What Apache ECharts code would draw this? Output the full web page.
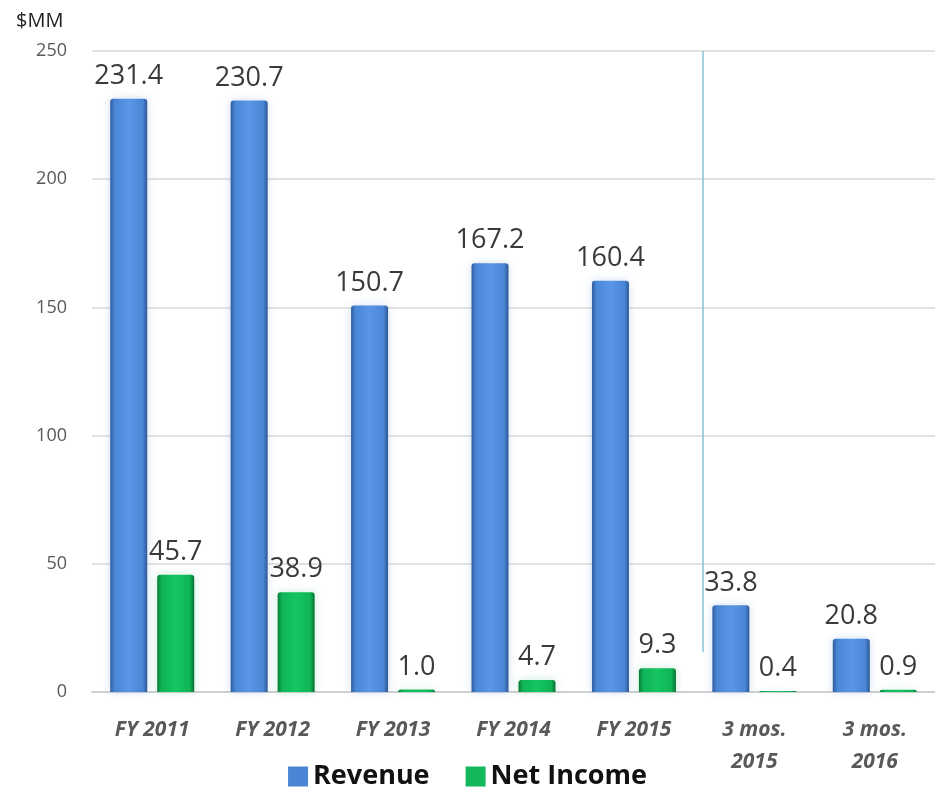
<!DOCTYPE html>
<html>
<head>
<meta charset="utf-8">
<script src="https://cdn.jsdelivr.net/npm/echarts@6/dist/echarts.min.js"></script>
<style>
  html, body { margin: 0; padding: 0; background: #fff; }
  #chart { width: 935px; height: 788px; }
</style>
</head>
<body>
<div id="chart"></div>
<script>
// chart data
const categories = ['FY 2011', 'FY 2012', 'FY 2013', 'FY 2014', 'FY 2015', '3 mos.\n2015', '3 mos.\n2016']
const revenue = [231.4, 230.7, 150.7, 167.2, 160.4, 33.8, 20.8]
const netIncome = [45.7, 38.9, 1.0, 4.7, 9.3, 0.4, 0.9]
const yTicks = [0, 50, 100, 150, 200, 250]
// separator between fiscal years and quarters (in category units, value on hidden axis)
const separatorX = 5.07
const separatorBottom = 15.5

const font = 'Open Sans, Noto Sans, sans-serif'

const blueFill = new echarts.graphic.LinearGradient(0, 0, 1, 0, [
  { offset: 0, color: '#2f5c9e' },
  { offset: 0.12, color: '#4a86d6' },
  { offset: 0.5, color: '#5a96e6' },
  { offset: 0.88, color: '#4a86d6' },
  { offset: 1, color: '#2c5794' }
])
const greenFill = new echarts.graphic.LinearGradient(0, 0, 1, 0, [
  { offset: 0, color: '#087a38' },
  { offset: 0.12, color: '#0fb457' },
  { offset: 0.5, color: '#16c463' },
  { offset: 0.88, color: '#0fb457' },
  { offset: 1, color: '#06702f' }
])

const labelStyle = {
  show: true,
  position: 'top',
  distance: 9,
  fontSize: 27,
  fontFamily: font,
  color: '#3a3a3a',
  formatter: p => p.value.toFixed(1)
}

const chart = echarts.init(document.getElementById('chart'))
chart.setOption({
  animation: false,
  backgroundColor: '#fff',
  textStyle: { fontFamily: font },
  title: {
    text: '$MM',
    left: 11,
    top: 6,
    textStyle: { fontSize: 20, fontWeight: 'normal', color: '#222', fontFamily: font }
  },
  grid: { left: 92, right: 0, top: 51, bottom: 96 },
  legend: {
    bottom: -7,
    left: 'center',
    itemWidth: 20,
    itemHeight: 20,
    itemGap: 36,
    textStyle: { fontSize: 27, fontWeight: 'bold', color: '#111', fontFamily: font },
    data: [
      { name: 'Revenue', icon: 'rect', itemStyle: { color: '#4a86d6' } },
      { name: 'Net Income', icon: 'rect', itemStyle: { color: '#12b85a' } }
    ]
  },
  xAxis: [
    {
      type: 'category',
      data: categories,
      axisLine: { lineStyle: { color: '#d0d0d0', width: 2 } },
      axisTick: { show: false },
      axisLabel: {
        margin: 22,
        fontSize: 21,
        fontStyle: 'italic',
        fontWeight: 'bold',
        color: '#595959',
        lineHeight: 32,
        fontFamily: font
      }
    },
    { type: 'value', min: 0, max: 7, show: false }
  ],
  yAxis: {
    type: 'value',
    min: yTicks[0],
    max: yTicks[yTicks.length - 1],
    interval: 50,
    axisLine: { show: false },
    axisTick: { show: false },
    axisLabel: { margin: 25, fontSize: 18, color: '#595959', fontFamily: font },
    splitLine: { lineStyle: { color: '#d9d9d9', width: 1.5 } }
  },
  series: [
    {
      name: 'Revenue',
      type: 'bar',
      data: revenue,
      barWidth: 37,
      barGap: '27%',
      itemStyle: { color: blueFill, borderRadius: [3, 3, 0, 0], shadowColor: 'rgba(120,160,220,0.35)', shadowBlur: 8 },
      label: labelStyle
    },
    {
      name: 'Net Income',
      type: 'bar',
      data: netIncome,
      barWidth: 37,
      itemStyle: { color: greenFill, borderRadius: [3, 3, 0, 0], shadowColor: 'rgba(100,200,140,0.35)', shadowBlur: 8 },
      label: labelStyle
    },
    {
      name: 'separator',
      type: 'line',
      xAxisIndex: 1,
      data: [],
      silent: true,
      markLine: {
        symbol: 'none',
        silent: true,
        label: { show: false },
        lineStyle: { color: '#86c3d6', width: 1.5, type: 'solid' },
        data: [[{ coord: [separatorX, separatorBottom] }, { coord: [separatorX, yTicks[yTicks.length - 1]] }]]
      }
    }
  ]
})
</script>
</body>
</html>
